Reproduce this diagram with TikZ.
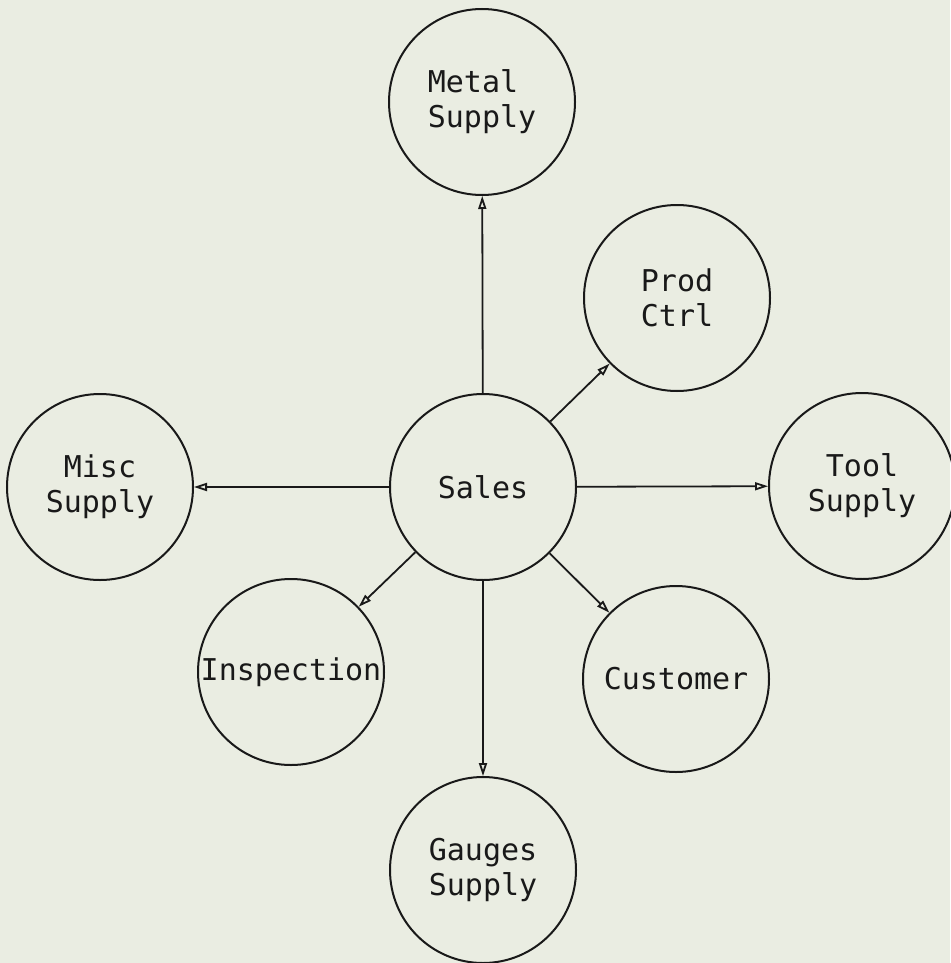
\documentclass[tikz,border=0pt]{standalone}
\usepackage{fontspec}
\newfontfamily\plotfont{DejaVu Sans Mono}
\usetikzlibrary{arrows.meta}
\definecolor{paper}{RGB}{234,237,226}
\definecolor{ink}{RGB}{25,25,25}
\begin{document}
\begin{tikzpicture}[x=1pt,y=-1pt,
  bubble/.style={circle,draw=ink,line width=2pt,minimum size=186pt,inner sep=0pt,
    font=\plotfont\fontsize{30}{35}\selectfont,text=ink,align=center},
  flow/.style={draw=ink,line width=1.8pt,-{Triangle[open,length=13pt,width=8pt,line width=1.8pt]}}]
\fill[paper] (0,0) rectangle (950,963);
\useasboundingbox (0,0) rectangle (950,963);
\node[bubble] (sales) at (483,487) {Sales};
\node[bubble,align=left] (metal) at (482,102) {Metal\\Supply};
\node[bubble] (prod) at (677,298) {Prod\\Ctrl};
\node[bubble] (tool) at (862,486) {Tool\\Supply};
\node[bubble] (misc) at (100,487) {Misc\\Supply};
\node[bubble] (insp) at (291,672) {Inspection};
\node[bubble] (cust) at (676,679) {Customer};
\node[bubble] (gauge) at (483,870) {Gauges\\Supply};
\draw[flow] (sales) -- (metal);
\draw[flow] (sales) -- (prod);
\draw[flow] (sales) -- (tool);
\draw[flow] (sales) -- (misc);
\draw[flow] (sales) -- (insp);
\draw[flow] (sales) -- (cust);
\draw[flow] (sales) -- (gauge);
\end{tikzpicture}
\end{document}
